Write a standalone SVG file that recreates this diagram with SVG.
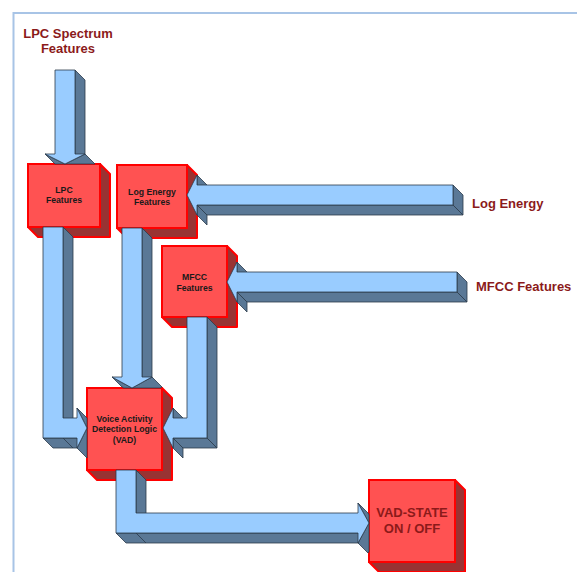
<svg xmlns="http://www.w3.org/2000/svg" width="577" height="572" viewBox="0 0 577 572">
<style>
.front{fill:#99ccff;stroke:#2b3a4a;stroke-width:0.8;stroke-linejoin:round}
.side{fill:#5a7896;stroke:#2b3a4a;stroke-width:0.8;stroke-linejoin:round}
.edge{stroke:#2b3a4a;stroke-width:0.8;fill:none}
.bf{fill:#ff5252;stroke:#ff0000;stroke-width:2}
.bs{fill:#993333;stroke:#ff0000;stroke-width:2;stroke-linejoin:round}
.lbl{font-family:"Liberation Sans",Arial,sans-serif;font-weight:bold;font-size:8.7px;fill:#1a1a1a;text-anchor:middle}
.big{font-family:"Liberation Sans",Arial,sans-serif;font-weight:bold;font-size:13px;fill:#8b1a1a}
</style>
<rect width="577" height="572" fill="#ffffff"/>
<path d="M13.5,572 V13 H577" fill="none" stroke="#a8c4e6" stroke-width="2"/>

<g id="lpc-spectrum-label">
<text class="big" x="68" y="38" text-anchor="middle">LPC Spectrum</text>
<text class="big" x="68" y="53" text-anchor="middle">Features</text>
</g>
<g id="log-energy-label"><text class="big" x="472" y="208">Log Energy</text></g>
<g id="mfcc-label"><text class="big" x="476" y="291">MFCC Features</text></g>

<g id="lpc-features">
<polygon class="bs" points="100,164 110,174 110,237 38,237 28,227"/>
<rect class="bf" x="28" y="164" width="72" height="63"/>
<text class="lbl" x="64" y="193">LPC</text>
<text class="lbl" x="64" y="203">Features</text>
</g>
<g id="log-energy-features">
<polygon class="bs" points="187,165 197,175 197,238 127,238 117,228"/>
<rect class="bf" x="117" y="165" width="70" height="63"/>
<text class="lbl" x="152" y="195">Log Energy</text>
<text class="lbl" x="152" y="205">Features</text>
</g>
<g id="mfcc-features">
<polygon class="bs" points="227,246 237,256 237,327 172,327 162,317"/>
<rect class="bf" x="162" y="246" width="65" height="71"/>
<text class="lbl" x="194.5" y="280">MFCC</text>
<text class="lbl" x="194.5" y="291">Features</text>
</g>
<g id="vad">
<polygon class="bs" points="162,388 172,398 172,480 97,480 87,470"/>
<rect class="bf" x="87" y="388" width="75" height="82"/>
<text class="lbl" x="124.5" y="421.5">Voice Activity</text>
<text class="lbl" x="124.5" y="432.3">Detection Logic</text>
<text class="lbl" x="124.5" y="443">(VAD)</text>
</g>
<g id="vad-state">
<polygon class="bs" points="455,480 465,490 465,572 379,572 369,562"/>
<rect class="bf" x="369" y="480" width="86" height="82"/>
<text class="big" x="412" y="517" text-anchor="middle">VAD-STATE</text>
<text class="big" x="412" y="533" text-anchor="middle">ON / OFF</text>
</g>

<g id="connectors">
<!-- LPC Spectrum -> LPC Features -->
<g>
<polygon class="side" points="75,70 85,80 85,164 75,154"/>
<polygon class="side" points="85,154 95,164 65,164"/>
<polygon class="side" points="45,154 65,164 55,164"/>
<polygon class="front" points="55,70 75,70 75,154 85,154 65,164 45,154 55,154"/>
</g>
<!-- Log Energy -> Log Energy Features -->
<g>
<polygon class="side" points="197,205 453,205 463,215 207,215"/>
<polygon class="side" points="453,185 463,195 463,215 453,205"/>
<polygon class="side" points="197,175 197,185 207,195 207,185"/>
<polygon class="side" points="197,205 197,215 207,225 207,215"/>
<polygon class="front" points="187,195 197,175 197,185 453,185 453,205 197,205 197,215"/>
</g>
<!-- MFCC Features -> MFCC Features box -->
<g>
<polygon class="side" points="237,292 457,292 467,302 247,302"/>
<polygon class="side" points="457,272 467,282 467,302 457,292"/>
<polygon class="side" points="237,262 237,272 247,282 247,272"/>
<polygon class="side" points="237,292 237,302 247,312 247,302"/>
<polygon class="front" points="227,282 237,262 237,272 457,272 457,292 237,292 237,302"/>
</g>
<!-- LPC Features -> VAD -->
<g>
<polygon class="side" points="63,227 73,237 73,428 63,418"/>
<polygon class="side" points="43,438 77,438 87,448 53,448"/>
<polygon class="side" points="77,408 87,418 87,428"/>
<polygon class="side" points="87,428 77,448 87,458"/>
<polygon class="front" points="43,227 63,227 63,418 77,418 77,408 87,428 77,448 77,438 43,438"/>
<line class="edge" x1="63" y1="438" x2="73" y2="448"/>
</g>
<!-- Log Energy Features -> VAD -->
<g>
<polygon class="side" points="142,228 152,238 152,387 142,377"/>
<polygon class="side" points="112,377 122,387 123.8,388 132,388"/>
<polygon class="side" points="132,388 152,377 162,387 160.2,388"/>
<polygon class="front" points="122,228 142,228 142,377 152,377 132,388 112,377 122,377"/>
</g>
<!-- MFCC Features -> VAD -->
<g>
<polygon class="side" points="207,317 217,327 217,448 207,438"/>
<polygon class="side" points="173,438 207,438 217,448 183,448"/>
<polygon class="side" points="173,408 173,418 183,428 183,418"/>
<polygon class="side" points="173,438 173,448 183,458 183,448"/>
<polygon class="front" points="187,317 207,317 207,438 173,438 173,448 163,428 173,408 173,418 187,418"/>
</g>
<!-- VAD -> VAD-STATE -->
<g>
<polygon class="side" points="136,470 146,480 146,523 136,513"/>
<polygon class="side" points="116,533 358,533 368,543 126,543"/>
<polygon class="side" points="358,503 368,513 369,514.8 369,523"/>
<polygon class="side" points="369,523 358,543 368,553 369,551.2"/>
<polygon class="front" points="116,470 136,470 136,513 358,513 358,503 369,523 358,543 358,533 116,533"/>
<line class="edge" x1="136" y1="533" x2="146" y2="543"/>
</g>
</g>
</svg>
